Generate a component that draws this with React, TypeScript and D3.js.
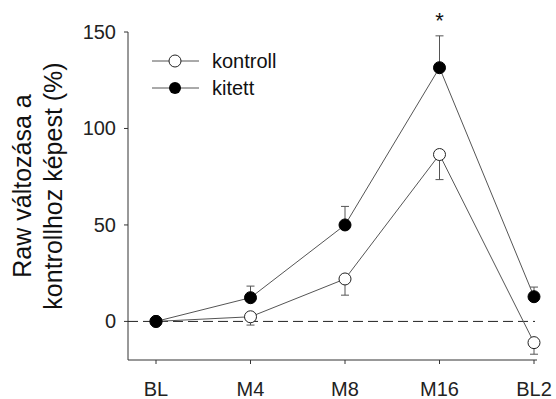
import React from "react";
import * as d3 from "d3";

const categories = ["BL", "M4", "M8", "M16", "BL2"];
const kontroll = [0, 2.4, 22, 86.5, -11];
const kontrollErr = [0, 4.3, 8.4, 13, 6];
const kitett = [0, 12.3, 50, 131.5, 12.8];
const kitettErr = [0, 6, 9.6, 16.5, 5];
const yTicks = [0, 50, 100, 150];

export default function App() {
  const width = 556;
  const height = 399;
  const font = "Liberation Sans, Arial, sans-serif";

  const x = d3.scaleLinear().domain([0, 4]).range([156, 534]);
  const y = d3.scaleLinear().domain([-20, 150]).range([360, 32]);
  const x0 = 128;
  const x1 = 537;

  const line = d3
    .line<number>()
    .x((_, i) => x(i))
    .y((d) => y(d));

  const lineColor = "#555";

  return (
    <svg width={width} height={height} style={{ position: "absolute", left: 0, top: 0 }}>
      <rect width={width} height={height} fill="#fff" />
      {/* axes */}
      <line x1={x0} x2={x0} y1={y(150)} y2={y(-20)} stroke="#333" />
      <line x1={x0} x2={x1} y1={y(-20)} y2={y(-20)} stroke="#333" />
      {yTicks.map((t) => (
        <g key={t}>
          <line x1={x0 - 4} x2={x0} y1={y(t)} y2={y(t)} stroke="#333" />
          <text x={x0 - 12} y={y(t)} dy="0.35em" textAnchor="end" fontFamily={font} fontSize={20} fill="#222">
            {t}
          </text>
        </g>
      ))}
      {categories.map((c, i) => (
        <g key={c}>
          <line x1={x(i)} x2={x(i)} y1={y(-20)} y2={y(-20) + 4} stroke="#333" />
          <text x={x(i)} y={396} textAnchor="middle" fontFamily={font} fontSize={20} fill="#222">
            {c}
          </text>
        </g>
      ))}
      {/* y label */}
      <g transform={`translate(22,186) rotate(-90)`}>
        <text x={0} y={0} dy="0.35em" textAnchor="middle" fontFamily={font} fontSize={25} fill="#111">
          Raw változása a
        </text>
        <text x={0} y={31} dy="0.35em" textAnchor="middle" fontFamily={font} fontSize={25} fill="#111">
          kontrollhoz képest (%)
        </text>
      </g>
      {/* zero line */}
      <line x1={x0} x2={535} y1={y(0)} y2={y(0)} stroke="#222" strokeDasharray="10,5" />
      {/* error bars */}
      {kontroll.map((v, i) =>
        kontrollErr[i] > 0 ? (
          <g key={"ke" + i} stroke={lineColor}>
            <line x1={x(i)} x2={x(i)} y1={y(v)} y2={y(v - kontrollErr[i])} />
            <line x1={x(i) - 4} x2={x(i) + 4} y1={y(v - kontrollErr[i])} y2={y(v - kontrollErr[i])} />
          </g>
        ) : null
      )}
      {kitett.map((v, i) =>
        kitettErr[i] > 0 ? (
          <g key={"te" + i} stroke={lineColor}>
            <line x1={x(i)} x2={x(i)} y1={y(v)} y2={y(v + kitettErr[i])} />
            <line x1={x(i) - 4} x2={x(i) + 4} y1={y(v + kitettErr[i])} y2={y(v + kitettErr[i])} />
          </g>
        ) : null
      )}
      {/* lines */}
      <path d={line(kontroll) || ""} fill="none" stroke={lineColor} />
      <path d={line(kitett) || ""} fill="none" stroke={lineColor} />
      {kontroll.map((v, i) => (
        <circle key={"kc" + i} cx={x(i)} cy={y(v)} r={6} fill="#fff" stroke="#222" />
      ))}
      {kitett.map((v, i) => (
        <circle key={"tc" + i} cx={x(i)} cy={y(v)} r={6} fill="#000" stroke="#000" />
      ))}
      <text x={x(3)} y={28} textAnchor="middle" fontFamily={font} fontSize={22} fill="#111">
        *
      </text>
      {/* legend */}
      <g>
        <line x1={152} x2={199} y1={61} y2={61} stroke={lineColor} />
        <circle cx={175} cy={61} r={6} fill="#fff" stroke="#222" />
        <text x={212} y={61} dy="0.35em" fontFamily={font} fontSize={20} fill="#111">
          kontroll
        </text>
        <line x1={152} x2={199} y1={88} y2={88} stroke={lineColor} />
        <circle cx={175} cy={88} r={6} fill="#000" />
        <text x={212} y={88} dy="0.35em" fontFamily={font} fontSize={20} fill="#111">
          kitett
        </text>
      </g>
    </svg>
  );
}
